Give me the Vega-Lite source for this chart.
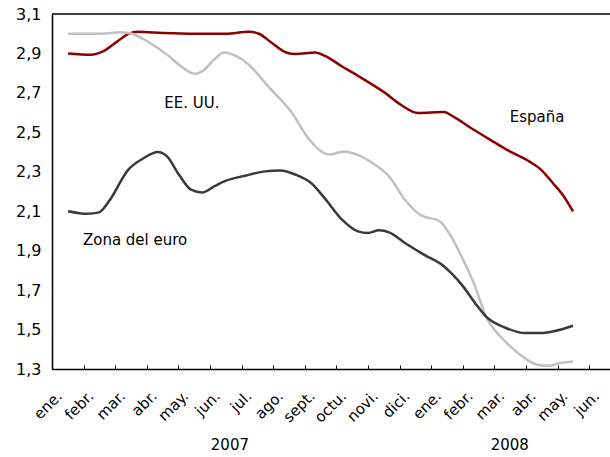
{
  "$schema": "https://vega.github.io/schema/vega-lite/v6.json",
  "width": 558,
  "height": 355,
  "autosize": {"type": "none"},
  "padding": {"left": 52, "top": 14, "right": 0, "bottom": 88},
  "background": "white",
  "config": {
    "view": {"stroke": null},
    "font": "DejaVu Sans",
    "axis": {"labelOverlap": false, "labelFlush": false, "labelBound": false, "grid": false, "title": null}
  },
  "datasets": {
    "series": [
      {"serie": "España", "t": 0.51, "v": 2.9},
      {"serie": "España", "t": 1.23, "v": 2.893},
      {"serie": "España", "t": 1.61, "v": 2.91},
      {"serie": "España", "t": 2.06, "v": 2.96},
      {"serie": "España", "t": 2.41, "v": 2.998},
      {"serie": "España", "t": 2.72, "v": 3.01},
      {"serie": "España", "t": 3.51, "v": 3.004},
      {"serie": "España", "t": 4.5, "v": 3.0},
      {"serie": "España", "t": 5.51, "v": 3.0},
      {"serie": "España", "t": 6.23, "v": 3.01},
      {"serie": "España", "t": 6.55, "v": 3.0},
      {"serie": "España", "t": 6.96, "v": 2.953},
      {"serie": "España", "t": 7.41, "v": 2.905},
      {"serie": "España", "t": 7.72, "v": 2.897},
      {"serie": "España", "t": 8.32, "v": 2.905},
      {"serie": "España", "t": 8.64, "v": 2.888},
      {"serie": "España", "t": 9.18, "v": 2.834},
      {"serie": "España", "t": 9.68, "v": 2.787},
      {"serie": "España", "t": 10.54, "v": 2.7},
      {"serie": "España", "t": 11.04, "v": 2.64},
      {"serie": "España", "t": 11.58, "v": 2.598},
      {"serie": "España", "t": 12.41, "v": 2.603},
      {"serie": "España", "t": 12.69, "v": 2.581},
      {"serie": "España", "t": 13.26, "v": 2.522},
      {"serie": "España", "t": 13.86, "v": 2.463},
      {"serie": "España", "t": 14.49, "v": 2.403},
      {"serie": "España", "t": 15.1, "v": 2.353},
      {"serie": "España", "t": 15.48, "v": 2.31},
      {"serie": "España", "t": 15.85, "v": 2.243},
      {"serie": "España", "t": 16.2, "v": 2.175},
      {"serie": "España", "t": 16.49, "v": 2.099},
      {"serie": "EE. UU.", "t": 0.51, "v": 3.0},
      {"serie": "EE. UU.", "t": 1.55, "v": 3.0},
      {"serie": "EE. UU.", "t": 2.18, "v": 3.008},
      {"serie": "EE. UU.", "t": 2.53, "v": 3.0},
      {"serie": "EE. UU.", "t": 3.1, "v": 2.953},
      {"serie": "EE. UU.", "t": 3.64, "v": 2.894},
      {"serie": "EE. UU.", "t": 4.02, "v": 2.843},
      {"serie": "EE. UU.", "t": 4.53, "v": 2.797},
      {"serie": "EE. UU.", "t": 4.75, "v": 2.809},
      {"serie": "EE. UU.", "t": 5.13, "v": 2.868},
      {"serie": "EE. UU.", "t": 5.44, "v": 2.905},
      {"serie": "EE. UU.", "t": 5.73, "v": 2.894},
      {"serie": "EE. UU.", "t": 6.23, "v": 2.843},
      {"serie": "EE. UU.", "t": 6.84, "v": 2.733},
      {"serie": "EE. UU.", "t": 7.6, "v": 2.598},
      {"serie": "EE. UU.", "t": 8.07, "v": 2.479},
      {"serie": "EE. UU.", "t": 8.45, "v": 2.412},
      {"serie": "EE. UU.", "t": 8.77, "v": 2.387},
      {"serie": "EE. UU.", "t": 9.24, "v": 2.403},
      {"serie": "EE. UU.", "t": 9.56, "v": 2.392},
      {"serie": "EE. UU.", "t": 10.22, "v": 2.336},
      {"serie": "EE. UU.", "t": 10.67, "v": 2.276},
      {"serie": "EE. UU.", "t": 11.17, "v": 2.158},
      {"serie": "EE. UU.", "t": 11.65, "v": 2.082},
      {"serie": "EE. UU.", "t": 12.28, "v": 2.048},
      {"serie": "EE. UU.", "t": 12.63, "v": 1.972},
      {"serie": "EE. UU.", "t": 13.01, "v": 1.854},
      {"serie": "EE. UU.", "t": 13.39, "v": 1.719},
      {"serie": "EE. UU.", "t": 13.73, "v": 1.567},
      {"serie": "EE. UU.", "t": 14.24, "v": 1.457},
      {"serie": "EE. UU.", "t": 14.75, "v": 1.381},
      {"serie": "EE. UU.", "t": 15.35, "v": 1.322},
      {"serie": "EE. UU.", "t": 15.73, "v": 1.316},
      {"serie": "EE. UU.", "t": 16.08, "v": 1.33},
      {"serie": "EE. UU.", "t": 16.49, "v": 1.338},
      {"serie": "Zona del euro", "t": 0.51, "v": 2.1},
      {"serie": "Zona del euro", "t": 1.12, "v": 2.087},
      {"serie": "Zona del euro", "t": 1.49, "v": 2.094},
      {"serie": "Zona del euro", "t": 1.8, "v": 2.15},
      {"serie": "Zona del euro", "t": 2.41, "v": 2.31},
      {"serie": "Zona del euro", "t": 2.91, "v": 2.37},
      {"serie": "Zona del euro", "t": 3.35, "v": 2.4},
      {"serie": "Zona del euro", "t": 3.64, "v": 2.378},
      {"serie": "Zona del euro", "t": 4.02, "v": 2.285},
      {"serie": "Zona del euro", "t": 4.4, "v": 2.209},
      {"serie": "Zona del euro", "t": 4.75, "v": 2.195},
      {"serie": "Zona del euro", "t": 5.13, "v": 2.226},
      {"serie": "Zona del euro", "t": 5.51, "v": 2.255},
      {"serie": "Zona del euro", "t": 6.11, "v": 2.28},
      {"serie": "Zona del euro", "t": 6.74, "v": 2.302},
      {"serie": "Zona del euro", "t": 7.22, "v": 2.307},
      {"serie": "Zona del euro", "t": 7.72, "v": 2.285},
      {"serie": "Zona del euro", "t": 8.2, "v": 2.243},
      {"serie": "Zona del euro", "t": 8.66, "v": 2.16},
      {"serie": "Zona del euro", "t": 9.18, "v": 2.057},
      {"serie": "Zona del euro", "t": 9.68, "v": 1.998},
      {"serie": "Zona del euro", "t": 10.0, "v": 1.99},
      {"serie": "Zona del euro", "t": 10.35, "v": 2.003},
      {"serie": "Zona del euro", "t": 10.67, "v": 1.993},
      {"serie": "Zona del euro", "t": 11.17, "v": 1.939},
      {"serie": "Zona del euro", "t": 11.77, "v": 1.88},
      {"serie": "Zona del euro", "t": 12.41, "v": 1.82},
      {"serie": "Zona del euro", "t": 12.63, "v": 1.787},
      {"serie": "Zona del euro", "t": 13.01, "v": 1.719},
      {"serie": "Zona del euro", "t": 13.39, "v": 1.634},
      {"serie": "Zona del euro", "t": 13.73, "v": 1.567},
      {"serie": "Zona del euro", "t": 14.37, "v": 1.508},
      {"serie": "Zona del euro", "t": 14.97, "v": 1.482},
      {"serie": "Zona del euro", "t": 15.48, "v": 1.482},
      {"serie": "Zona del euro", "t": 15.85, "v": 1.49},
      {"serie": "Zona del euro", "t": 16.49, "v": 1.519}
    ],
    "labels": [
      {"label": "EE. UU.", "t": 4.43, "v": 2.65},
      {"label": "España", "t": 15.35, "v": 2.579},
      {"label": "Zona del euro", "t": 2.63, "v": 1.955},
      {"label": "2007", "t": 5.63, "v": 0.915},
      {"label": "2008", "t": 14.49, "v": 0.915}
    ],
    "top": [{"v": 3.1}]
  },
  "layer": [
    {
      "data": {"name": "series"},
      "mark": {"type": "line", "interpolate": "monotone", "strokeWidth": 2.5},
      "encoding": {
        "x": {
          "field": "t", "type": "quantitative",
          "scale": {"domain": [0, 17.66], "nice": false, "zero": false},
          "axis": {
            "values": [0,1,2,3,4,5,6,7,8,9,10,11,12,13,14,15,16,17],
            "tickCount": 40,
            "labelExpr": "['ene.','febr.','mar.','abr.','may.','jun.','jul.','ago.','sept.','octu.','novi.','dici.','ene.','febr.','mar.','abr.','may.','jun.'][datum.value]",
            "labelAngle": -45, "labelAlign": "right", "labelBaseline": "middle",
            "labelOffset": 7, "labelPadding": 28, "labelFlush": false, "labelOverlap": false, "labelBound": false,
            "labelFontSize": 15, "labelColor": "black", "labelFont": "DejaVu Sans",
            "tickSize": -4, "tickColor": "black", "tickWidth": 1,
            "domainColor": "black", "domainWidth": 1.5
          }
        },
        "y": {
          "field": "v", "type": "quantitative",
          "scale": {"domain": [1.3, 3.1], "nice": false, "zero": false},
          "axis": {
            "values": [1.3, 1.5, 1.7, 1.9, 2.1, 2.3, 2.5, 2.7, 2.9, 3.1],
            "tickCount": 40,
            "labelExpr": "replace(format(datum.value, '.1f'), '.', ',')",
            "ticks": false, "labelPadding": 11, "labelFlush": false, "labelOverlap": false,
            "labelFontSize": 16, "labelColor": "black", "labelFont": "DejaVu Sans",
            "domainColor": "black", "domainWidth": 1.5
          }
        },
        "color": {
          "field": "serie", "type": "nominal",
          "scale": {"domain": ["España", "EE. UU.", "Zona del euro"], "range": ["#8B0000", "#C0C0C0", "#3A3A3A"]},
          "legend": null
        }
      }
    },
    {
      "data": {"name": "top"},
      "mark": {"type": "rule", "color": "black", "strokeWidth": 1.5},
      "encoding": {"y": {"field": "v", "type": "quantitative"}}
    },
    {
      "data": {"name": "labels"},
      "mark": {"type": "text", "fontSize": 15, "color": "black", "font": "DejaVu Sans", "baseline": "middle", "align": "center"},
      "encoding": {
        "x": {"field": "t", "type": "quantitative"},
        "y": {"field": "v", "type": "quantitative"},
        "text": {"field": "label"}
      }
    }
  ]
}
